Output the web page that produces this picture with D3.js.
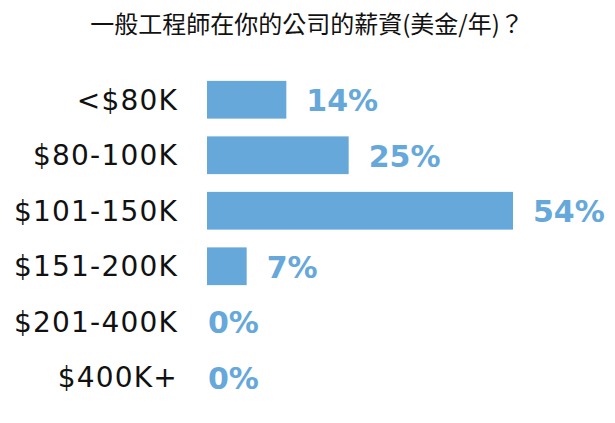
<!DOCTYPE html>
<html>
<head>
<meta charset="utf-8">
<script src="https://cdn.jsdelivr.net/npm/d3@7"></script>
<style>
  body { margin: 0; background: #fff; }
  .styleBar { fill: #66a8da; }
  .styleValue { fill: #66a8da; font-family: "DejaVu Sans"; font-weight: bold; font-size: 30px; }
  .styleCat { fill: #111; font-family: "DejaVu Sans"; font-size: 28px; letter-spacing: 1.2px; }
  .styleTitle { fill: #111; font-family: "Noto Sans CJK TC"; font-size: 24px; }
</style>
</head>
<body>
<svg id="chartsvg" width="615" height="423"></svg>
<script>
var categories = ["<$80K", "$80-100K", "$101-150K", "$151-200K", "$201-400K", "$400K+"];
var values = [14, 25, 54, 7, 0, 0];
var valueLabels = ["14%", "25%", "54%", "7%", "0%", "0%"];
var title = "一般工程師在你的公司的薪資(美金/年)？";

var svg = d3.select("svg#chartsvg");

var x = d3.scaleLinear().domain([0, 54]).range([207, 513]);
var y = d3.scaleBand().domain(categories).range([72, 405]).paddingInner(0.32).paddingOuter(0.16);

svg.append("text")
    .attr("class", "styleTitle")
    .attr("x", 307)
    .attr("y", 33)
    .attr("text-anchor", "middle")
    .text(title);

var rows = svg.selectAll("g.row")
    .data(categories)
    .enter()
    .append("g")
    .attr("class", "row");

rows.append("rect")
    .attr("class", "styleBar")
    .attr("x", x(0))
    .attr("y", function(d) { return y(d); })
    .attr("width", function(d, i) { return x(values[i]) - x(0); })
    .attr("height", y.bandwidth());

rows.append("text")
    .attr("class", "styleCat")
    .attr("x", 178)
    .attr("y", function(d) { return y(d) + y.bandwidth() / 2; })
    .attr("dy", "0.36em")
    .attr("text-anchor", "end")
    .text(function(d) { return d; });

rows.append("text")
    .attr("class", "styleValue")
    .attr("x", function(d, i) { return values[i] > 0 ? x(values[i]) + 20 : x(0) + 1; })
    .attr("y", function(d) { return y(d) + y.bandwidth() / 2; })
    .attr("dy", "0.38em")
    .text(function(d, i) { return valueLabels[i]; });
</script>
</body>
</html>
